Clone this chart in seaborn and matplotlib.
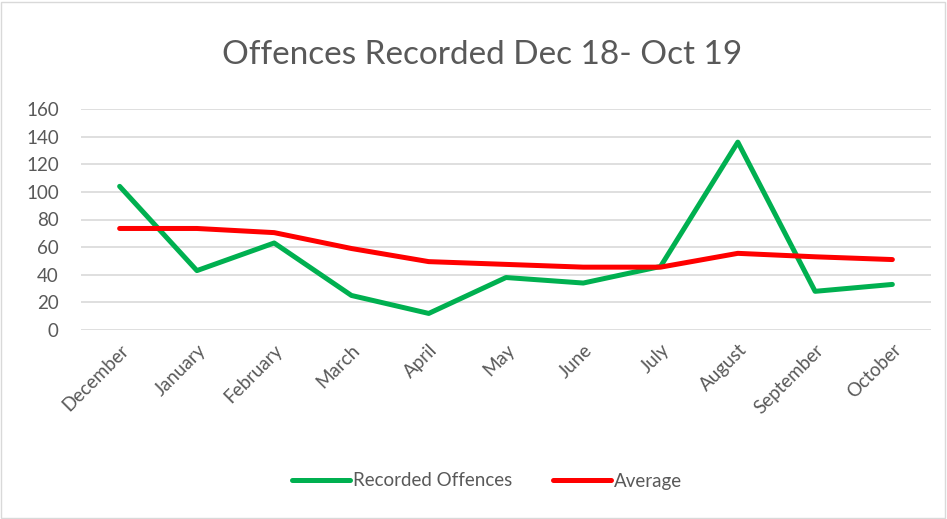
import pandas as pd
import matplotlib.pyplot as plt
import seaborn as sns
from matplotlib.patches import Rectangle

months = ['December', 'January', 'February', 'March', 'April', 'May',
          'June', 'July', 'August', 'September', 'October']
recorded = [104, 43, 63, 25, 12, 38, 34, 46, 136, 28, 33]
average = [73.5, 73.5, 70.5, 59, 49.5, 47.5, 45.5, 45.5, 55.5, 53, 51]

df = pd.DataFrame({'month': months * 2,
                   'value': recorded + average,
                   'serie': ['Recorded Offences'] * len(months) + ['Average'] * len(months)})

sns.set_style('white')
plt.rcParams['font.family'] = ['Lato', 'DejaVu Sans']
grey = '#595959'

fig = plt.figure(figsize=(9.47, 5.19), dpi=100)
ax = fig.add_axes([81 / 947, 1 - 330 / 519, 850 / 947, 221 / 519])
fig.patches.append(Rectangle((1 / 947, 1 / 519), 944 / 947, 516 / 519,
                             transform=fig.transFigure, fill=False,
                             edgecolor='#D9D9D9', linewidth=1))

sns.lineplot(data=df, x='month', y='value', hue='serie',
             palette={'Recorded Offences': '#00B050', 'Average': '#FF0000'},
             linewidth=3.6, sort=False, ax=ax)

ax.set_xlim(-0.5, len(months) - 0.5)
ax.set_ylim(0, 160)
ax.set_yticks(range(0, 161, 20))
ax.grid(axis='y', color='#D9D9D9', linewidth=1.2)
ax.set_axisbelow(True)
for s in ax.spines.values():
    s.set_visible(False)
ax.tick_params(axis='both', length=0, labelsize=13.5, labelcolor=grey)
ax.tick_params(axis='y', pad=16)
ax.tick_params(axis='x', pad=8)
ax.set_xticks(range(len(months)))
ax.set_xticklabels(months, rotation=45, ha='right', rotation_mode='anchor')
ax.set_xlabel('')
ax.set_ylabel('')

fig.suptitle('Offences Recorded Dec 18- Oct 19', x=482 / 947, y=1 - 55 / 519,
             va='center', fontsize=24, color=grey)

leg = ax.legend(loc='center', bbox_to_anchor=((487 - 81) / 850, (330 - 481) / 221),
                ncol=2, frameon=False, fontsize=13.5, handlelength=3.1,
                columnspacing=2.2, handletextpad=0.15)
for t in leg.get_texts():
    t.set_color(grey)
for l in leg.get_lines():
    l.set_linewidth(3.6)

plt.savefig('out.png', dpi=100)
